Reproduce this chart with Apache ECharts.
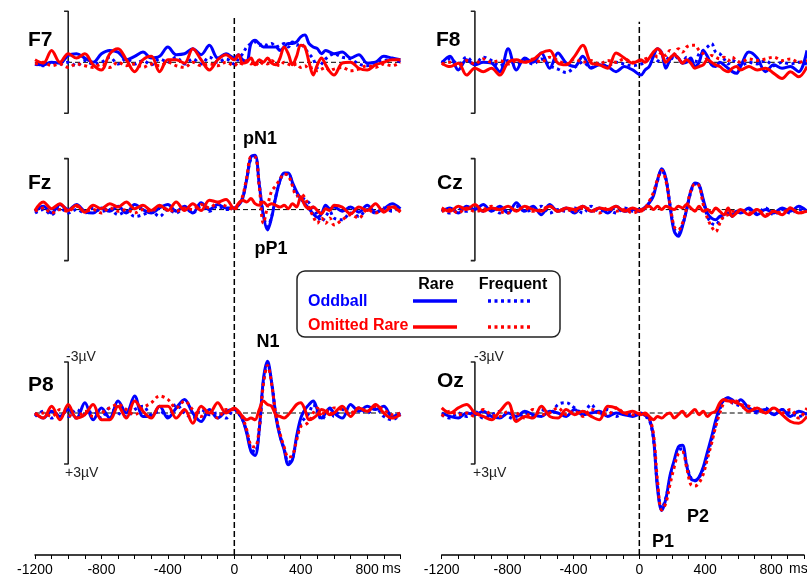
<!DOCTYPE html>
<html><head><meta charset="utf-8">
<script src="https://cdn.jsdelivr.net/npm/echarts@6/dist/echarts.min.js"></script>
<style>html,body{margin:0;padding:0;background:#fff}#c{width:807px;height:578px}</style>
</head><body><div id="c"></div><script>
// time samples (ms)
const T = [-1200,-1150,-1100,-1050,-1000,-950,-900,-850,-800,-750,-700,-650,-600,-550,-500,-450,-400,-350,-300,-250,-200,-150,-100,-50,
  0,25,50,75,100,125,150,175,200,225,250,275,300,325,350,375,400,425,450,475,500,525,550,575,600,
  650,700,750,800,850,900,950,1000];
const xTicks = [-1200,-800,-400,0,400,800];
const scaleBar = [-3, 3]; // µV
// values in µV (negative up)
// F7
const f7_oddRare = [0.1,0.15,0.0,0.05,-0.4,-0.5,-0.25,0,-0.5,-0.7,-0.6,-0.15,-0.35,-0.6,-0.25,-0.35,-0.9,-0.45,-0.5,-0.8,-0.45,-1.0,-0.25,-0.5,
  -0.25,-0.45,-0.15,-0.05,-1.1,-1.3,-1.1,-0.9,-0.9,-0.9,-0.9,-0.7,-0.9,-1.1,-1.1,-1.2,-1.5,-1.6,-1.1,-0.9,-0.8,-0.5,-0.7,-0.6,-0.5,
  -0.6,-0.25,-0.45,0.05,0,-0.35,-0.25,-0.15];
const f7_oddFreq = [0.1,0.2,0.0,0.1,0.0,0.2,-0.1,0.1,0.0,-0.3,0.1,-0.2,0.1,-0.1,0.15,-0.2,0.0,-0.3,0.1,-0.2,0.1,-0.3,0.0,-0.2,
  0.1,-0.2,-0.5,-0.9,-1.1,-1.2,-1.0,-1.1,-1.0,-1.1,-0.9,-1.0,-1.1,-0.9,-1.2,-1.0,-1.1,-0.8,-0.5,-0.2,0.3,0.1,-0.2,-0.4,-0.5,
  -0.3,-0.2,0.1,0.2,0.0,-0.1,-0.2,0.0];
const f7_omRare = [-0.15,0.05,-0.7,0,-0.5,-0.25,-0.5,0.15,0.45,-0.5,-0.8,-0.15,0.55,-0.15,-0.35,0.55,-0.15,-0.15,0.05,-0.8,-0.15,0.45,-0.15,-0.45,
  -0.15,-0.45,0.05,0,-0.25,0.15,-0.15,0,-0.25,0.05,0.15,-0.25,-0.9,-0.5,0.15,-0.35,-1.0,-0.9,0,0.75,0.15,-0.25,0.15,0.55,0.75,
  0.05,0,0.35,0.45,0.15,0,-0.15,-0.15];
const f7_omFreq = [0.1,0.0,0.2,0.1,0.3,0.1,0.2,0.3,0.1,0.3,0.0,0.2,0.1,0.3,0.1,0.2,0.0,0.2,0.3,0.0,0.2,0.1,0.2,0.0,
  0.2,0.0,0.1,-0.1,0.1,0.0,0.2,0.0,0.1,-0.1,0.1,0.2,0.0,0.1,0.2,0.1,0.3,0.2,0.4,0.3,0.5,0.4,0.3,0.5,0.4,
  0.3,0.5,0.4,0.2,0.3,0.1,0.2,0.0];
// F8
const f8_oddRare = [0.05,-0.35,0.45,-0.15,0.15,0,0.05,0.55,-0.8,0.45,-0.25,0,-0.55,0.35,-0.55,0.05,0.25,-0.35,0.35,0.15,0.25,0.55,0.25,0.45,
  0.75,0.45,0.25,-0.35,-0.8,-0.55,0.35,-0.15,-0.45,-0.25,0.05,0,-0.25,0.25,0,-0.7,-0.35,0.15,0.25,0,0.15,0.35,0.55,0.65,0.25,
  -0.6,-0.25,0.55,0.15,0.35,0.25,0.55,-0.7];
const f8_oddFreq = [0.0,-0.2,0.1,-0.3,0.1,-0.3,-0.1,0.2,-0.1,0.1,-0.1,0.1,-0.2,0.2,0.4,0.6,0.3,0.0,0.3,0.1,0.2,0.0,0.1,0.2,
  0.1,0.0,-0.2,-0.3,-0.1,0.0,-0.3,-0.1,-0.4,-0.2,0.0,-0.3,-0.1,0.0,-0.5,-0.7,-0.9,-1.1,-0.6,-0.5,-0.2,0.1,-0.1,0.0,0.2,
  0.0,0.1,-0.1,0.2,0.0,0.1,0.0,0.1];
const f8_omRare = [0.05,0.25,0.05,0.75,0.35,0.55,0.35,0.75,0,-0.15,0,-0.15,-0.55,-0.7,0.05,0.15,-0.35,-1.0,0.05,0.15,0.35,-0.55,-0.25,0.05,
  -0.15,0,-0.25,-0.6,-0.8,-0.55,0,-0.25,-0.45,-0.25,0.05,-0.15,0.05,0.35,0.25,0.15,-0.15,0,0.15,0.25,0.45,0.55,0.35,0.25,0.45,
  0.25,0.45,0.35,0.65,0.95,0.55,0.85,0.25];
const f8_omFreq = [0.1,0.0,0.2,-0.1,0.1,-0.2,0.0,-0.1,0.1,-0.1,0.0,-0.2,0.0,-0.3,-0.1,0.1,-0.2,0.0,-0.1,0.1,-0.1,0.0,-0.2,0.0,
  -0.1,-0.2,-0.3,-0.5,-0.3,-0.6,-0.4,-0.7,-0.5,-0.8,-0.6,-0.9,-1.0,-1.0,-0.7,-0.5,-0.2,-0.4,-0.3,-0.2,-0.3,-0.1,-0.3,-0.1,0.0,
  -0.2,-0.1,-0.2,-0.3,-0.1,-0.2,0.0,-0.1];
// Fz
const fz_oddRare = [0.1,-0.2,0.2,-0.3,0.0,-0.3,0.1,0.2,-0.1,0.1,-0.2,0.2,-0.3,0.0,0.2,-0.1,-0.3,0.1,-0.2,0.2,-0.4,0.0,-0.3,-0.1,
  -0.1,-0.25,-0.65,-1.8,-3.1,-3.2,-1.5,0.35,1.2,0.45,-0.75,-1.7,-2.15,-2.15,-1.6,-1.05,-0.65,-0.35,-0.05,0.25,0.45,0.25,-0.25,-0.05,-0.15,
  0.1,-0.15,0.15,-0.25,0.15,-0.05,-0.35,-0.05];
const fz_oddFreq = [0.2,0.0,0.3,-0.1,0.2,0.0,0.2,-0.1,0.1,0.0,0.3,0.1,0.4,0.3,0.1,0.4,0.0,0.2,-0.1,0.2,-0.2,0.1,-0.2,0.0,
  -0.1,-0.3,-0.7,-1.8,-3.0,-3.1,-1.5,0.3,1.0,0.4,-0.8,-1.7,-2.1,-2.1,-1.5,-0.9,-0.7,-0.6,-0.4,-0.1,0.3,0.7,0.4,0.1,0.5,
  0.6,0.2,0.4,0.0,0.2,-0.1,0.1,-0.2];
const fz_omRare = [0.05,-0.45,-0.05,-0.35,0.05,-0.25,0.15,-0.25,-0.05,-0.35,-0.15,-0.45,-0.05,-0.25,0.05,-0.25,0.05,-0.45,0.05,-0.35,0.05,-0.55,-0.45,-0.6,
  -0.05,-0.35,-0.55,-0.45,-0.65,-0.35,-0.25,-0.45,-0.25,-0.35,-0.25,-0.15,-0.25,-0.05,-0.35,-0.15,-0.75,-0.25,-0.05,-0.15,0.05,0.25,-0.05,0.05,-0.25,
  -0.15,0.25,-0.15,0.05,-0.35,0.15,-0.15,0.15];
const fz_omFreq = [0.1,-0.1,0.2,0.0,0.1,-0.2,0.1,0.0,0.2,-0.1,0.1,0.0,0.2,0.0,0.1,-0.2,0.0,0.1,-0.1,0.0,-0.3,-0.1,-0.4,-0.2,
  0.0,-0.3,-0.8,-1.9,-3.1,-3.1,-1.4,0.8,-0.2,-1.1,-1.4,-1.8,-2.1,-2.0,-1.4,-0.8,-0.9,-0.7,-0.1,0.4,0.8,0.5,0.8,0.5,0.9,
  0.6,0.3,0.5,0.0,0.2,0.0,-0.2,0.1];
// Cz
const cz_oddRare = [0.1,-0.1,0.2,-0.2,0.0,-0.3,0.1,-0.2,0.2,-0.4,0.1,-0.2,0.3,-0.3,0.1,-0.1,0.2,-0.2,0.1,-0.1,0.2,-0.2,0.1,0.0,
  0,-0.15,-0.4,-0.8,-1.75,-2.4,-1.85,-0.2,1.27,1.57,0.98,0,-1.08,-1.57,-1.47,-0.6,0.2,0.5,0.6,0.4,0.3,0.2,0.4,0.1,0.2,
  -0.1,0.3,0,0.2,-0.1,0.1,-0.2,0.1];
const cz_oddFreq = [0.0,0.2,-0.1,0.1,-0.2,0.1,-0.1,0.2,0.0,-0.2,0.1,0.0,-0.2,0.2,0.0,0.1,-0.1,0.2,-0.2,0.1,0.0,0.2,-0.1,0.1,
  0.1,-0.1,-0.4,-0.9,-1.7,-2.3,-1.8,-0.3,1.1,1.4,0.9,0.0,-1.0,-1.5,-1.4,-0.5,0.4,0.8,0.9,0.6,0.4,0.2,0.3,0.1,0.2,
  0.0,0.2,-0.1,0.3,0.0,0.2,0.0,0.1];
const cz_omRare = [-0.1,0.1,-0.2,0.0,-0.3,0.1,-0.1,0.0,-0.2,0.1,-0.2,0.0,0.1,-0.2,0.1,-0.1,0.0,-0.2,0.1,-0.1,0.0,-0.2,0.1,-0.1,
  0.1,-0.1,-0.2,0.0,-0.2,0.0,-0.2,-0.1,0.0,-0.2,-0.1,-0.3,-0.1,0.1,-0.2,0.1,0.0,0.2,-0.1,0.1,0.3,-0.1,0.4,0.2,0.0,
  0.3,0.0,0.4,0.1,0.3,-0.1,0.2,0.1];
const cz_omFreq = [0.1,0.0,0.2,-0.1,0.1,0.0,-0.2,0.1,0.2,0.0,-0.1,0.1,0.0,-0.2,0.1,0.0,0.1,-0.1,0.0,0.2,-0.1,0.1,0.0,0.2,
  0,-0.1,-0.5,-1.0,-1.8,-2.3,-1.7,-0.3,1.0,1.2,0.8,-0.1,-1.1,-1.5,-1.4,-0.3,0.5,1.0,1.3,0.8,0.4,0.3,0.1,0.2,0.0,
  0.2,0.0,0.3,0.1,0.2,-0.1,0.2,0.1];
// P8
const p8_oddRare = [0.0,0.3,-0.1,0.2,-0.2,0.3,-0.6,0.4,-0.3,0.3,-0.7,0.0,-1.0,0.2,0.2,-0.4,0.3,-0.3,-0.8,0.0,0.5,-0.2,0.3,-0.1,
  -0.2,0,0.4,1.2,2.25,2.5,1.0,-1.96,-3.04,-1.76,0.2,1.37,2.16,3.04,2.75,1.37,0.3,-0.2,-0.5,-0.7,-0.2,0.3,0,-0.3,0,
  0.3,-0.5,-0.1,-0.4,-0.2,-0.4,0.2,0];
const p8_oddFreq = [0.2,-0.1,0.3,0.0,0.2,-0.2,0.1,-0.1,0.3,-0.3,0.0,0.2,-0.2,-0.4,0.1,-0.1,0.2,-0.5,0.0,0.3,-0.2,0.1,0.0,0.3,
  -0.2,0.0,0.4,1.1,2.1,2.3,1.0,-1.8,-2.9,-1.8,0.1,1.3,2.1,2.9,2.7,1.5,0.6,0.3,0.0,-0.5,-0.1,0.4,0.1,-0.3,0.2,
  -0.2,0.1,-0.3,0.0,-0.3,0.2,0.4,0.1];
const p8_omRare = [0.0,0.3,-0.4,0.4,-0.5,0.3,0.1,-0.5,0.4,0.4,-0.4,0.3,-0.7,-0.1,0.3,-0.4,-0.4,0.3,-0.2,0.6,-0.4,0.0,-0.6,0.0,
  -0.3,-0.1,0.2,0.4,0.3,0.4,-0.2,-0.7,-0.5,-0.4,0.1,0.2,0.3,0.1,-0.2,-0.5,-0.6,-0.2,0.4,0.3,0.1,-0.2,-0.1,0.1,0.0,
  -0.4,0.2,-0.3,-0.1,-0.5,0.0,0.3,0.1];
const p8_omFreq = [0.1,0.0,0.2,-0.2,0.1,0.3,-0.1,0.2,0.0,-0.3,-0.5,-0.2,0.1,-0.3,-0.6,-1.0,-0.8,-0.3,-0.7,-0.2,0.2,-0.1,0.3,-0.2,
  -0.2,0.0,0.3,1.0,1.9,2.0,0.9,-1.7,-2.8,-1.7,0.1,1.2,2.0,2.6,2.5,1.6,0.8,0.7,0.5,0.0,-0.3,0.2,-0.2,0.1,-0.3,
  -0.2,0.0,-0.3,-0.1,-0.4,-0.2,0.1,0.0];
// Oz
const oz_oddRare = [0.0,0.2,0.3,0.0,0.1,-0.1,0.2,0.3,0.0,0.2,-0.1,0.1,0.2,-0.1,0.0,0.2,-0.2,0.1,0.0,-0.1,0.2,0.0,0.1,0.2,
  0.05,0.15,0.34,1.42,4.46,5.74,5.05,3.68,2.79,2.0,1.9,3.09,3.87,3.97,3.77,3.19,2.3,1.42,0.44,-0.34,-0.78,-0.88,-0.78,-0.59,-0.78,
  -0.29,-0.1,-0.2,0.1,-0.2,0.2,-0.1,0.1];
const oz_oddFreq = [0.1,0.3,0.0,0.2,-0.1,0.3,0.1,-0.1,0.2,0.4,0.0,0.2,-0.2,0.1,-0.5,-0.6,-0.3,0.0,-0.5,0.1,-0.2,0.2,0.0,0.1,
  0.0,0.2,0.4,1.5,4.3,5.6,5.0,3.8,2.9,2.2,2.1,3.0,3.8,4.0,3.8,3.3,2.5,1.6,0.7,-0.2,-0.8,-0.9,-0.6,-0.5,-0.4,
  -0.2,0.0,-0.3,0.1,-0.2,0.0,0.2,0.0];
const oz_omRare = [-0.3,0,-0.3,-0.5,0,0.2,0.4,-0.1,-0.6,0.5,0.2,0.3,-0.4,0.2,0.3,-0.2,0.1,-0.1,0.2,0.4,-0.4,-0.3,0,-0.1,
  0.1,0.0,0.2,0.4,0.2,0.3,0.1,0.0,0.3,0.1,-0.1,0.2,0.0,-0.2,0.1,-0.1,0.2,0.0,-0.1,-0.6,-0.8,-0.7,-0.7,-0.6,-0.5,
  -0.1,-0.3,0.0,-0.3,0.1,0.5,0.6,0.2];
const oz_omFreq = [0.2,-0.1,0.1,0.0,0.2,-0.2,0.1,0.2,-0.1,0.0,0.3,-0.2,0.1,0.0,-0.3,0.1,-0.1,0.2,-0.2,0.0,0.1,-0.3,0.0,0.1,
  0.0,0.1,0.3,1.2,4.0,5.7,5.3,4.2,3.2,2.4,2.3,3.2,4.2,4.3,4.1,3.6,2.7,1.8,0.8,0.0,-0.6,-0.8,-0.6,-0.7,-0.5,
  -0.4,-0.2,0.0,-0.3,0.0,-0.2,0.3,-0.3];

const panels = [
  {name:'F7', col:0, row:0, s:[f7_oddRare,f7_oddFreq,f7_omFreq,f7_omRare]},
  {name:'F8', col:1, row:0, s:[f8_oddRare,f8_oddFreq,f8_omFreq,f8_omRare]},
  {name:'Fz', col:0, row:1, s:[fz_oddRare,fz_oddFreq,fz_omFreq,fz_omRare]},
  {name:'Cz', col:1, row:1, s:[cz_oddRare,cz_oddFreq,cz_omFreq,cz_omRare]},
  {name:'P8', col:0, row:2, s:[p8_oddRare,p8_oddFreq,p8_omFreq,p8_omRare]},
  {name:'Oz', col:1, row:2, s:[oz_oddRare,oz_oddFreq,oz_omFreq,oz_omRare]}
];
const BLUE = '#0000ff', RED = '#ff0000', DOT = [3, 3.5];
const styles = [
  {color:BLUE, type:'solid'}, {color:BLUE, type:DOT}, {color:RED, type:DOT}, {color:RED, type:'solid'}
];
const colLeft = [35, 441.7], colWidth = 365.4;
const rows = [{base:62.3, lo:-3.5, hi:3.5}, {base:209.6, lo:-4, hi:4}, {base:413, lo:-4, hi:7}];
const PX = 17;
const FONT = '"Liberation Sans", Arial, sans-serif';

const grid = [], xAxis = [], yAxis = [], series = [];
panels.forEach((p, i) => {
  const r = rows[p.row];
  grid.push({left: colLeft[p.col], width: colWidth, top: r.base + r.lo * PX, height: (r.hi - r.lo) * PX});
  xAxis.push({type:'value', gridIndex:i, min:-1200, max:1000, show:false});
  yAxis.push({type:'value', gridIndex:i, min:r.lo, max:r.hi, inverse:true, show:false});
  series.push({type:'line', xAxisIndex:i, yAxisIndex:i, data:[[-1200,0],[1000,0]], showSymbol:false, silent:true,
    lineStyle:{color:'#000', width:1, type:[5,3]}, z:1});
  series.push({type:'line', xAxisIndex:i, yAxisIndex:i,
    data:[[-1025,scaleBar[0]],[-1000,scaleBar[0]],[-1000,scaleBar[1]],[-1025,scaleBar[1]]],
    showSymbol:false, silent:true, lineStyle:{color:'#222', width:1.6}, z:2});
  p.s.forEach((arr, k) => {
    series.push({type:'line', xAxisIndex:i, yAxisIndex:i, data:T.map((t, j) => [t, arr[j]]),
      showSymbol:false, smooth:0.35, silent:true,
      lineStyle:{color:styles[k].color, width:3, type:styles[k].type, cap:'butt'}, z:3 + k});
  });
});
// bottom axis grids (full column height, for the 0 ms line and time axis)
const axTop = [18, 21.7];
[0,1].forEach(c => {
  const gi = grid.length;
  grid.push({left: colLeft[c], width: colWidth, top: axTop[c], height: 555 - axTop[c]});
  xAxis.push({type:'value', gridIndex:gi, min:-1200, max:1000, interval:100, position:'bottom',
    axisLine:{show:true, onZero:false, lineStyle:{color:'#000', width:1.5}},
    axisTick:{show:true, length:4, lineStyle:{color:'#000', width:1}},
    axisLabel:{show:true, margin:8, fontSize:14, color:'#000', fontFamily:FONT,
      formatter: v => xTicks.indexOf(v) >= 0 ? String(v) : ''},
    splitLine:{show:false}});
  yAxis.push({type:'value', gridIndex:gi, min:0, max:1, show:false});
  series.push({type:'line', xAxisIndex:gi, yAxisIndex:gi, data:[[0,0],[0,1]], showSymbol:false, silent:true,
    lineStyle:{color:'#000', width:1.5, type:[6,3]}, z:1});
});

function txt(text, x, y, size, color, bold, align) {
  return {type:'text', x:x, y:y, z:100, style:{text:text, fill:color, font:(bold ? 'bold ' : '') + size + 'px ' + FONT,
    align:align || 'left', verticalAlign:'middle'}};
}
const labelPos = [[28,40],[436,40],[28,183],[437,183],[28,385],[437,381]];
const graphic = [];
panels.forEach((p, i) => graphic.push(txt(p.name, labelPos[i][0], labelPos[i][1], 21, '#000', true)));
graphic.push(txt('pN1', 260, 139, 18, '#000', true, 'center'));
graphic.push(txt('pP1', 271, 249, 18, '#000', true, 'center'));
graphic.push(txt('N1', 268, 342, 18, '#000', true, 'center'));
graphic.push(txt('P2', 698, 517, 18, '#000', true, 'center'));
graphic.push(txt('P1', 663, 542, 18, '#000', true, 'center'));
graphic.push(txt('-3\u00b5V', 66, 357, 14, '#222', false));
graphic.push(txt('+3\u00b5V', 65, 473, 14, '#222', false));
graphic.push(txt('-3\u00b5V', 474, 357, 14, '#222', false));
graphic.push(txt('+3\u00b5V', 473, 473, 14, '#222', false));
graphic.push(txt('ms', 382, 569.5, 14, '#000', false));
graphic.push(txt('ms', 789, 569.5, 14, '#000', false));
// legend
graphic.push({type:'rect', z:90, shape:{x:297, y:271, width:263, height:66, r:8}, style:{fill:'#fff', stroke:'#222', lineWidth:1.5}});
graphic.push(txt('Rare', 436, 285, 16, '#000', true, 'center'));
graphic.push(txt('Frequent', 513, 285, 16, '#000', true, 'center'));
graphic.push(txt('Oddball', 308, 301.5, 16, BLUE, true));
graphic.push(txt('Omitted Rare', 308, 326, 16, RED, true));
[[301, BLUE],[327, RED]].forEach(([y, c]) => {
  graphic.push({type:'line', z:100, shape:{x1:413, y1:y, x2:457, y2:y}, style:{stroke:c, lineWidth:3.5}});
  graphic.push({type:'line', z:100, shape:{x1:488, y1:y, x2:533, y2:y}, style:{stroke:c, lineWidth:3.5, lineDash:DOT}});
});

const chart = echarts.init(document.getElementById('c'), null, {renderer:'canvas'});
chart.setOption({animation:false, backgroundColor:'#fff', grid, xAxis, yAxis, series, graphic});
</script></body></html>
